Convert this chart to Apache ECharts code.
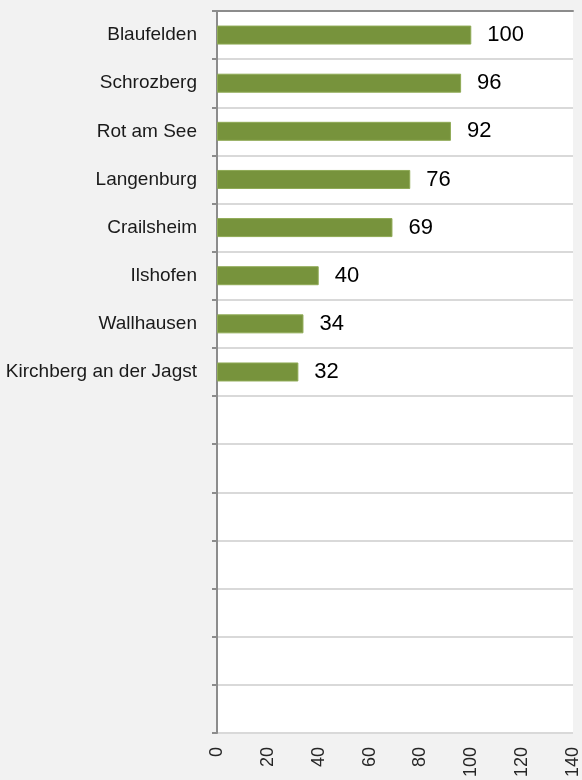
<!DOCTYPE html>
<html>
<head>
<meta charset="utf-8">
<script src="https://cdn.jsdelivr.net/npm/echarts@6/dist/echarts.min.js"></script>
<style>
html, body { margin: 0; padding: 0; background: #f2f2f2; }
#container { width: 582px; height: 780px; }
</style>
</head>
<body>
<div id="container"></div>
<script>
// Orte und Werte (von oben nach unten), leere Plätze am Ende
var places = ["Blaufelden", "Schrozberg", "Rot am See", "Langenburg", "Crailsheim",
    "Ilshofen", "Wallhausen", "Kirchberg an der Jagst", "", "", "", "", "", "", ""];
var values = [100, 96, 92, 76, 69, 40, 34, 32];
var ticks = [0, 20, 40, 60, 80, 100, 120, 140];

var myChart = echarts.init(document.getElementById("container"));
myChart.setOption({
    backgroundColor: '#f2f2f2',
    animation: false,
    grid: {
        left: 217, right: 9, top: 11, bottom: 47,
        show: true, backgroundColor: '#ffffff', borderWidth: 0
    },
    xAxis: [
        {
            type: 'value',
            min: ticks[0], max: ticks[ticks.length - 1], interval: 20,
            position: 'bottom',
            axisLine: { show: false },
            axisTick: { show: false },
            splitLine: { show: false },
            axisLabel: {
                rotate: 90, margin: 14,
                fontFamily: 'Liberation Sans', fontSize: 18, color: '#262626'
            }
        },
        {
            // Linie oben am Diagramm
            type: 'value',
            min: ticks[0], max: ticks[ticks.length - 1],
            position: 'top',
            axisLine: { show: true, lineStyle: { color: '#8c8c8c', width: 2 } },
            axisTick: { show: false },
            axisLabel: { show: false },
            splitLine: { show: false }
        }
    ],
    yAxis: {
        type: 'category',
        data: places,
        inverse: true,
        axisLine: { show: true, lineStyle: { color: '#8c8c8c', width: 2 } },
        axisTick: { show: true, length: 5, lineStyle: { color: '#8c8c8c', width: 2 } },
        splitLine: { show: true, lineStyle: { color: '#d9d9d9', width: 2 } },
        axisLabel: {
            margin: 20,
            fontFamily: 'Liberation Sans', fontSize: 19, color: '#1a1a1a'
        }
    },
    series: [{
        type: 'bar',
        data: values,
        barWidth: 19,
        itemStyle: { color: '#77933c', borderColor: '#8faa55', borderWidth: 1 },
        label: {
            show: true, position: 'right', distance: 16,
            fontFamily: 'Liberation Sans', fontSize: 22, color: '#000000'
        }
    }]
});
</script>
</body>
</html>
